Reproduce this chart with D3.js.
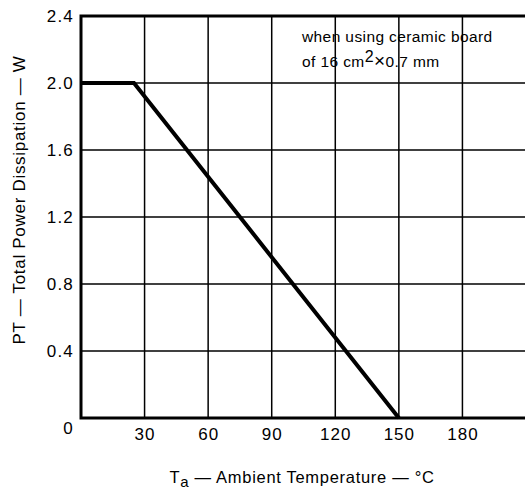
<!DOCTYPE html>
<html><head><meta charset="utf-8">
<script src="https://cdn.jsdelivr.net/npm/d3@7"></script>
<style>body{margin:0;background:#fff}svg{display:block}text{font-family:"Liberation Sans",Arial,sans-serif;fill:#000}</style>
</head><body><svg id="c" width="525" height="491"></svg>
<script>
const curveTa = [0, 25, 150];
const curvePT = [2.0, 2.0, 0];
const xTicks = [30, 60, 90, 120, 150, 180];
const yTicks = [0.4, 0.8, 1.2, 1.6, 2.0, 2.4];

const svg = d3.select("#c");
const L = 81, T = 16, B = 418, R = 526;
const x = d3.scaleLinear().domain([0, 210]).range([L, R]);
const y = d3.scaleLinear().domain([0, 2.4]).range([B, T]);

// grid
svg.append("g").selectAll("line").data(xTicks).join("line")
  .attr("x1", d => x(d)).attr("x2", d => x(d)).attr("y1", T).attr("y2", B)
  .attr("stroke", "#000").attr("stroke-width", 1.5);
svg.append("g").selectAll("line").data(yTicks.slice(0, -1)).join("line")
  .attr("x1", L).attr("x2", R).attr("y1", d => y(d)).attr("y2", d => y(d))
  .attr("stroke", "#000").attr("stroke-width", 1.5);

// frame
svg.append("path").attr("d", `M${R},${T}H${L}V${B}H${R}`)
  .attr("fill", "none").attr("stroke", "#000").attr("stroke-width", 3);

// axes labels
const yAxis = d3.axisLeft(y).tickValues(yTicks).tickSize(0).tickPadding(7).tickFormat(d3.format(".1f"));
const ga = svg.append("g").attr("transform", `translate(${L},0)`).call(yAxis);
ga.select(".domain").remove();
ga.selectAll("text").attr("font-size", 17).attr("letter-spacing", 1.2).attr("font-family", "Liberation Sans, Arial, sans-serif");

const xAxis = d3.axisBottom(x).tickValues(xTicks).tickSize(0).tickPadding(10);
const gx = svg.append("g").attr("transform", `translate(0,${B})`).call(xAxis);
gx.select(".domain").remove();
gx.selectAll("text").attr("font-size", 17).attr("letter-spacing", 1).attr("font-family", "Liberation Sans, Arial, sans-serif");

svg.append("text").attr("x", 68).attr("y", 434).attr("text-anchor", "middle").attr("font-size", 17).text("0");

// curve
const line = d3.line().x((d, i) => x(curveTa[i])).y(d => y(d));
svg.append("path").datum(curvePT).attr("d", line)
  .attr("fill", "none").attr("stroke", "#000").attr("stroke-width", 4).attr("stroke-linejoin", "miter");

// annotation
svg.append("text").attr("x", 302).attr("y", 42).attr("font-size", 15.5).attr("letter-spacing", 0.4).text("when using ceramic board");
const t2 = svg.append("text").attr("x", 302).attr("y", 67).attr("font-size", 15.5).attr("letter-spacing", 0.4);
t2.append("tspan").text("of 16 cm");
t2.append("tspan").attr("dy", -5).attr("font-size", 16).text("2");
t2.append("tspan").attr("dy", 5).attr("font-size", 19).text("\u00d7");
t2.append("tspan").text("0.7 mm");

// x title
const xt = svg.append("text").attr("x", 302).attr("y", 483).attr("text-anchor", "middle").attr("font-size", 16.5).attr("letter-spacing", 0.7);
xt.append("tspan").text("T");
xt.append("tspan").attr("dy", 4).attr("font-size", 15).text("a");
xt.append("tspan").attr("dy", -4).text(" \u2014 Ambient Temperature \u2014 \u00b0C");

// y title
svg.append("text").attr("transform", "translate(25,200) rotate(-90)").attr("text-anchor", "middle")
  .attr("font-size", 17).attr("letter-spacing", 0.7).text("PT \u2014 Total Power Dissipation \u2014 W");
</script></body></html>
